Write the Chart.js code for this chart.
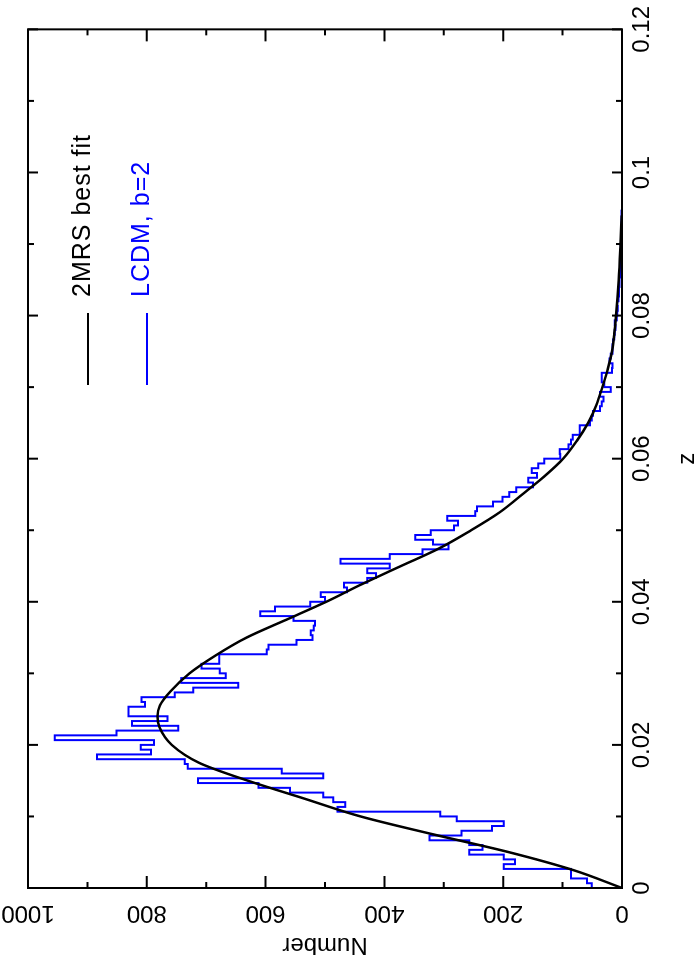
<!DOCTYPE html>
<html>
<head>
<meta charset="utf-8">
<script src="https://cdn.jsdelivr.net/npm/chart.js@4.4.1/dist/chart.umd.min.js"></script>
<style>
  html, body { margin: 0; padding: 0; background: #fff; overflow: hidden; }
  /* the plot is drawn in landscape and turned a quarter turn, like the original figure */
  #wrap {
    position: absolute; left: 0; top: 0;
    width: 957px; height: 699px;
    transform-origin: 0 0;
    transform: translate(0, 957px) rotate(-90deg);
  }
</style>
</head>
<body>
<div id="wrap"><canvas id="chart" width="957" height="699"></canvas></div>
<script>
// histogram: counts per redshift bin, bins start at z = 0
const binWidth = 1 / 1500;
const histCounts = [
  51, 59, 86, 86, 199, 180, 199, 257, 235, 257,
  324, 270, 219, 199, 278, 306, 479, 466, 486, 503,
  559, 612, 714, 503, 573, 731, 736, 884, 793, 810,
  788, 955, 851, 747, 825, 765, 831, 831, 803, 809,
  753, 722, 646, 742, 667, 677, 708, 678, 678, 598,
  595, 548, 521, 524, 519, 517, 553, 609, 584, 525,
  500, 507, 463, 468, 429, 414, 429, 391, 474, 391,
  336, 292, 318, 348, 322, 283, 276, 294, 247, 244,
  217, 201, 190, 178, 150, 158, 143, 152, 141, 131,
  104, 105, 90, 86, 83, 71, 71, 54, 51, 49,
  37, 34, 31, 37, 19, 30, 34, 34, 17, 16,
  21, 19, 16, 16, 15, 13, 12, 11, 12, 9,
  8, 7, 8, 6, 5, 5, 4, 4, 3, 3,
  3, 2, 2, 2, 2, 1, 1, 1, 1, 1,
  1, 1
];

// best fit curve
const fitZ = [0, 0.0025, 0.005, 0.0075, 0.01, 0.0125, 0.015, 0.0175, 0.02, 0.0225,
  0.024, 0.0255, 0.0275, 0.03, 0.0325, 0.035, 0.0375, 0.04, 0.0425, 0.045,
  0.0475, 0.05, 0.0525, 0.055, 0.0575, 0.06, 0.0625, 0.065, 0.0675, 0.07,
  0.0725, 0.075, 0.0775, 0.08, 0.085, 0.09, 0.094];
const fitN = [0, 82, 190, 318, 440, 535, 630, 712, 758, 779,
  782, 778, 760, 728, 684, 632, 565, 498, 437, 372,
  307, 254, 206, 168, 131, 99, 76, 57, 43, 33,
  24, 17, 13, 10, 5.5, 2.5, 0.5];

const seriesNames = ["2MRS best fit", "LCDM, b=2"];
const seriesColors = ["#000000", "#0000ff"];

const zTicks = [0, 0.02, 0.04, 0.06, 0.08, 0.1, 0.12];
const zTickLabels = ["0", "0.02", "0.04", "0.06", "0.08", "0.1", "0.12"];
const zMinorStep = 0.01;
const numberTicks = [0, 200, 400, 600, 800, 1000];
const numberTickLabels = ["0", "200", "400", "600", "800", "1000"];
const numberMinorStep = 100;

const FONT = '"Liberation Sans", Arial, Helvetica, sans-serif';

// outline of the histogram
const histPoints = [{x: 0, y: 0}];
histCounts.forEach((n, k) => {
    histPoints.push({x: k * binWidth, y: n});
    histPoints.push({x: (k + 1) * binWidth, y: n});
});
histPoints.push({x: histCounts.length * binWidth, y: 0});

const fitPoints = fitZ.map((z, i) => ({x: z, y: fitN[i]}));

const frameAndTicks = {
    id: "frameAndTicks",
    afterDraw(chart) {
        const ctx = chart.ctx;
        const a = chart.chartArea;
        const xs = chart.scales.x;
        const ys = chart.scales.y;
        ctx.save();
        ctx.strokeStyle = "#000";
        ctx.lineWidth = 2;
        ctx.strokeRect(a.left, a.top, a.right - a.left, a.bottom - a.top);

        ctx.beginPath();
        const nz = Math.round(xs.max / zMinorStep);
        for (let i = 0; i <= nz; i++) {
            const px = xs.getPixelForValue(i * zMinorStep);
            const len = i % 2 === 0 ? 10 : 6;
            ctx.moveTo(px, a.bottom); ctx.lineTo(px, a.bottom - len);
            ctx.moveTo(px, a.top); ctx.lineTo(px, a.top + len);
        }
        const nn = Math.round(ys.max / numberMinorStep);
        for (let i = 0; i <= nn; i++) {
            const py = ys.getPixelForValue(i * numberMinorStep);
            const len = i % 2 === 0 ? 12 : 6;
            ctx.moveTo(a.left, py); ctx.lineTo(a.left + len, py);
            ctx.moveTo(a.right, py); ctx.lineTo(a.right - len, py);
        }
        ctx.stroke();

        // Number labels run along the axis
        ctx.fillStyle = "#000";
        ctx.font = "24px " + FONT;
        ctx.textAlign = "center";
        ctx.textBaseline = "middle";
        numberTicks.forEach((v, i) => {
            const py = ys.getPixelForValue(v);
            ctx.save();
            ctx.translate(a.left - 25, py);
            ctx.rotate(-Math.PI / 2);
            ctx.fillText(numberTickLabels[i], 0, 0);
            ctx.restore();
        });

        // legend in the corner
        ctx.font = "25px " + FONT;
        ctx.letterSpacing = "1px";
        ctx.textAlign = "left";
        ctx.textBaseline = "alphabetic";
        chart.data.datasets.forEach((ds, i) => {
            const ly = 88 + i * 59;
            ctx.strokeStyle = ds.borderColor;
            ctx.lineWidth = 2;
            ctx.beginPath();
            ctx.moveTo(572, ly);
            ctx.lineTo(644, ly);
            ctx.stroke();
            ctx.fillStyle = ds.borderColor;
            ctx.fillText(ds.label, 660, ly + 2);
        });
        ctx.restore();
    }
};

new Chart(document.getElementById("chart"), {
    type: "line",
    data: {
        datasets: [
            {
                label: seriesNames[0],
                data: fitPoints,
                borderColor: seriesColors[0],
                borderWidth: 2.5,
                pointRadius: 0,
                cubicInterpolationMode: "monotone",
                fill: false,
            },
            {
                label: seriesNames[1],
                data: histPoints,
                borderColor: seriesColors[1],
                borderWidth: 2,
                pointRadius: 0,
                tension: 0,
                fill: false,
            },
        ],
    },
    plugins: [frameAndTicks],
    options: {
        responsive: false,
        animation: false,
        events: [],
        layout: {
            padding: {top: 28, right: 25, left: 0, bottom: 0}
        },
        plugins: {
            legend: {display: false},
            tooltip: {enabled: false},
        },
        scales: {
            x: {
                type: "linear",
                position: "bottom",
                min: 0,
                max: 0.12,
                afterBuildTicks: (s) => { s.ticks = zTicks.map((v) => ({value: v})); },
                afterFit: (s) => { s.height = 77; },
                grid: {display: false, drawTicks: false},
                border: {display: false},
                ticks: {
                    color: "#000",
                    font: {family: FONT, size: 24},
                    padding: 6,
                    maxRotation: 0,
                    autoSkip: false,
                    callback: (v, i) => zTickLabels[i],
                },
                title: {
                    display: true,
                    text: "z",
                    color: "#000",
                    font: {family: FONT, size: 24, lineHeight: 1},
                    padding: 0,
                },
            },
            y: {
                type: "linear",
                position: "left",
                min: 0,
                max: 1000,
                afterBuildTicks: (s) => { s.ticks = numberTicks.map((v) => ({value: v})); },
                afterFit: (s) => { s.width = 69; },
                grid: {display: false, drawTicks: false},
                border: {display: false},
                ticks: {display: false},
                title: {
                    display: true,
                    text: "Number",
                    color: "#000",
                    font: {family: FONT, size: 24, lineHeight: 1},
                    padding: 0,
                },
            },
        },
    },
});
</script>
</body>
</html>
